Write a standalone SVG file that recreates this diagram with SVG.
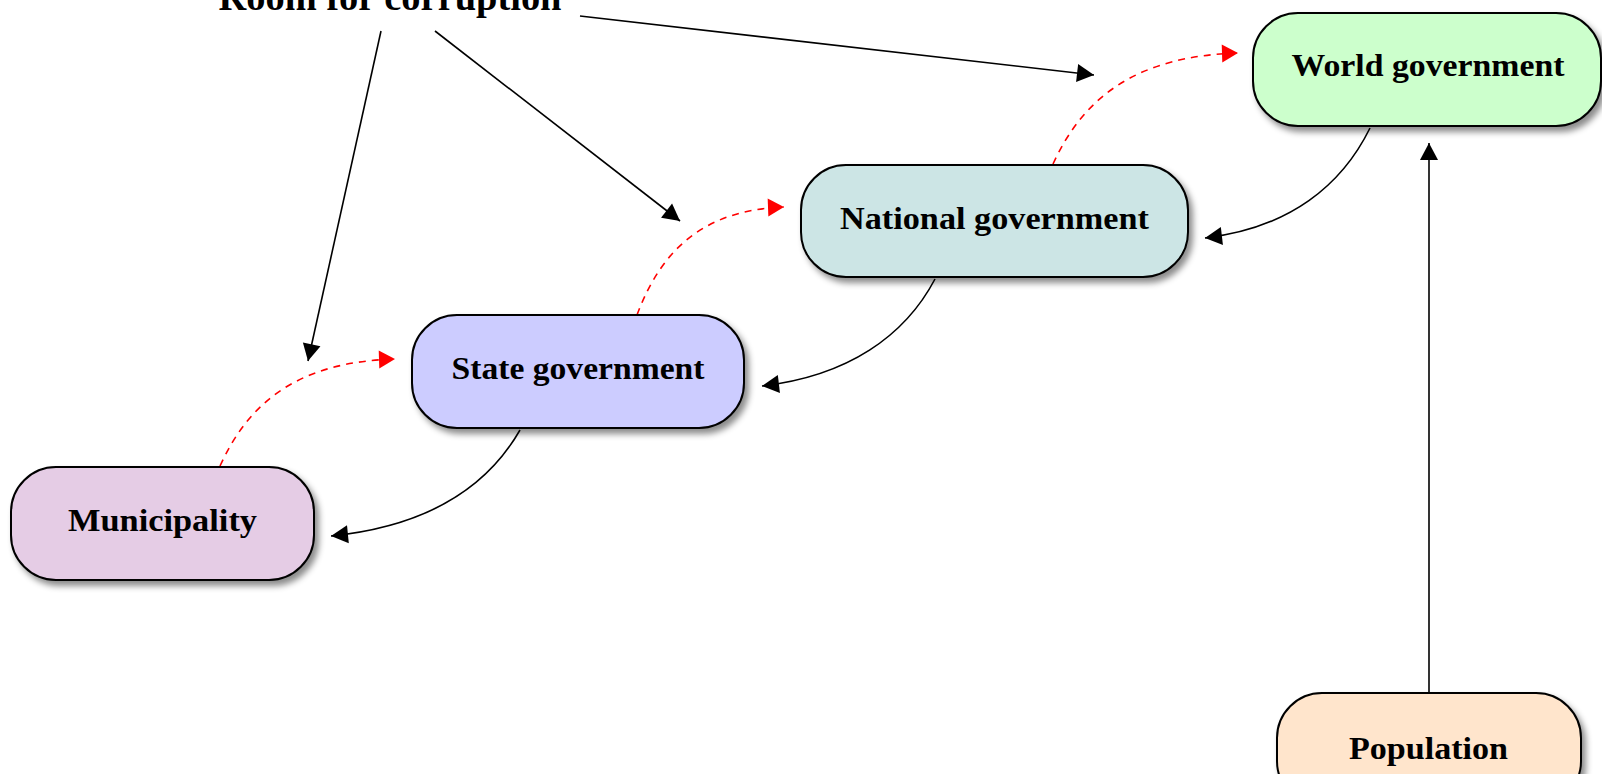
<svg xmlns="http://www.w3.org/2000/svg" width="1602" height="774" viewBox="0 0 1602 774">
<style>
.box{stroke:#000;stroke-width:2;filter:url(#sh)}
.lbl{font-family:"Liberation Serif","Times New Roman",serif;font-weight:bold;font-size:32px;fill:#000;text-anchor:middle}
.blk{fill:none;stroke:#000;stroke-width:1.6;marker-end:url(#ab)}
.red{fill:none;stroke:#ff0000;stroke-width:1.6;stroke-dasharray:7,6;marker-end:url(#ar)}
</style>
<defs>
<filter id="sh" x="-10%" y="-20%" width="125%" height="150%">
<feDropShadow dx="4" dy="5" stdDeviation="3" flood-color="#000" flood-opacity="0.45"/>
</filter>
<marker id="ab" markerUnits="userSpaceOnUse" markerWidth="20" markerHeight="20" viewBox="-18 -10 20 20" refX="0" refY="0" orient="auto">
<path d="M0,0 L-17,-9 L-17,9 Z" fill="#000"/>
</marker>
<marker id="ar" markerUnits="userSpaceOnUse" markerWidth="20" markerHeight="20" viewBox="-18 -10 20 20" refX="0" refY="0" orient="auto">
<path d="M0,0 L-16,-9 L-16,9 Z" fill="#ff0000"/>
</marker>
</defs>
<g id="connectors">
<path class="blk" d="M381,31 L308,361"/>
<path class="blk" d="M435,31 L680,221"/>
<path class="blk" d="M580,16 L1094,75"/>
<path class="blk" d="M1429,693 L1429,143"/>
<path class="blk" d="M520,430 C488,486 430,526 331,536"/>
<path class="blk" d="M935,279 C905,336 848,376 762,386"/>
<path class="blk" d="M1370,128 C1342,185 1290,228 1205,238"/>
<path class="red" d="M220,466 C250,400 300,362 395,359"/>
<path class="red" d="M637,315 C662,248 705,210 784,207"/>
<path class="red" d="M1053,164 C1084,96 1138,56 1238,53"/>
</g>
<g id="room">
<text class="lbl" x="390" y="10" style="font-size:37px" textLength="343" lengthAdjust="spacingAndGlyphs">Room for corruption</text>
</g>
<g id="world">
<rect class="box" x="1253" y="13" width="348" height="113" rx="45" fill="#ccffcc"/>
<text class="lbl" x="1428" y="76" textLength="273" lengthAdjust="spacingAndGlyphs">World government</text>
</g>
<g id="national">
<rect class="box" x="801" y="165" width="387" height="112" rx="45" fill="#cce5e5"/>
<text class="lbl" x="994.5" y="229" textLength="309" lengthAdjust="spacingAndGlyphs">National government</text>
</g>
<g id="state">
<rect class="box" x="412" y="315" width="332" height="113" rx="45" fill="#ccccff"/>
<text class="lbl" x="578" y="379" textLength="253" lengthAdjust="spacingAndGlyphs">State government</text>
</g>
<g id="municipality">
<rect class="box" x="11" y="467" width="303" height="113" rx="45" fill="#e5cce5"/>
<text class="lbl" x="162.5" y="531" textLength="189" lengthAdjust="spacingAndGlyphs">Municipality</text>
</g>
<g id="population">
<rect class="box" x="1277" y="693" width="304" height="113" rx="45" fill="#ffe5cc"/>
<text class="lbl" x="1428.5" y="759" textLength="159" lengthAdjust="spacingAndGlyphs">Population</text>
</g>
</svg>
